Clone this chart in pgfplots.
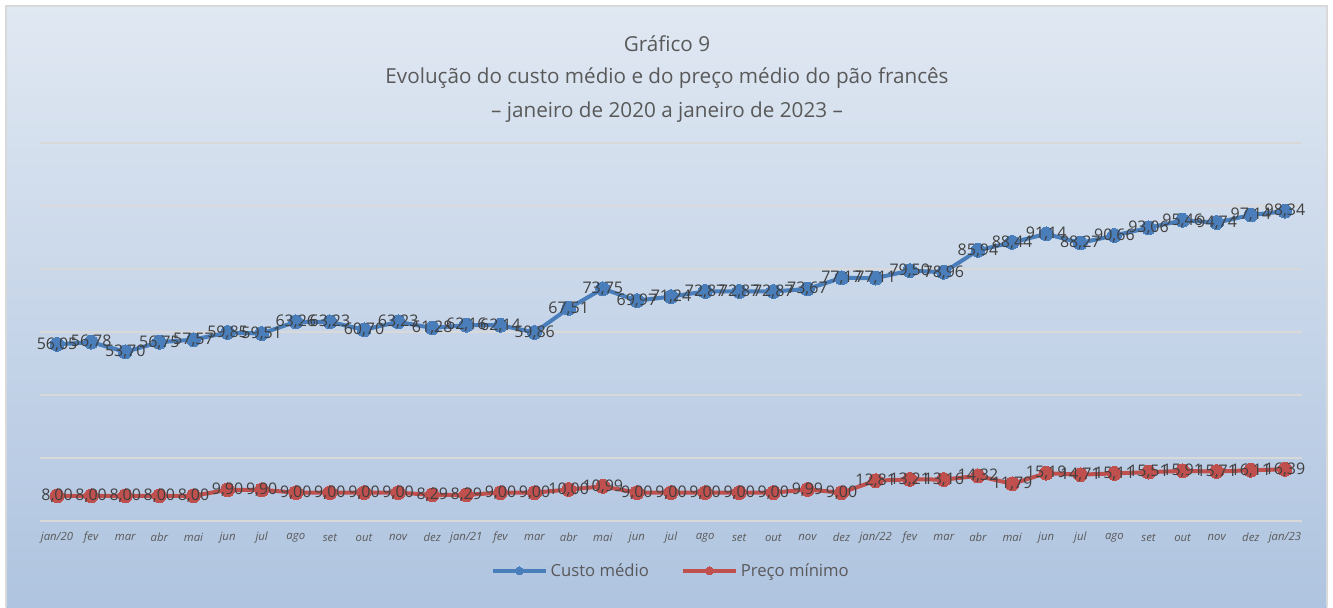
\documentclass[border=0pt]{standalone}
\usepackage{pgfplots}
\pgfplotsset{compat=1.18}
\usepackage{fontspec}
\setmainfont{Open Sans}
\definecolor{cblue}{HTML}{4A7EBB}
\definecolor{cred}{HTML}{C0504D}
\definecolor{ctext}{HTML}{404040}
\definecolor{ctitle}{HTML}{595959}
\definecolor{cgrid}{HTML}{D9D9D9}
\definecolor{bgtop}{HTML}{E0E8F2}
\definecolor{bgbot}{HTML}{AFC4E0}
\begin{document}
\begin{tikzpicture}
% background (1 px = 0.75pt; picture 1333 x 607 px)
\fill[white] (0,0) rectangle (999.75pt,455.25pt);
\shade[top color=bgtop, bottom color=bgbot] (4.5pt,0pt) rectangle (995.25pt,450.75pt);
\draw[cgrid, line width=1pt] (4.5pt,0pt) -- (4.5pt,450.75pt) -- (995.25pt,450.75pt) -- (995.25pt,0pt);
% title
\node[text=ctitle, font=\fontsize{15.5}{17}\selectfont] at (500.25pt,422.25pt) {Gráfico 9};
\node[text=ctitle, font=\fontsize{15.5}{17}\selectfont] at (500.25pt,396.75pt) {Evolução do custo médio e do preço médio do pão francês};
\node[text=ctitle, font=\fontsize{15.5}{17}\selectfont] at (500.25pt,371.25pt) {– janeiro de 2020 a janeiro de 2023 –};
\begin{axis}[
  at={(30pt,64.5pt)}, anchor=south west,
  scale only axis, width=946.5pt, height=283.5pt,
  xmin=-0.5, xmax=36.5, ymin=0, ymax=120,
  ytick={0,20,...,120}, yticklabels={},
  ymajorgrids, grid style={cgrid, line width=1.2pt},
  axis line style={draw=none}, major tick length=0pt,
  xtick={0,...,36},
  xticklabels={jan/20,fev,mar,abr,mai,jun,jul,ago,set,out,nov,dez,jan/21,fev,mar,abr,mai,jun,jul,ago,set,out,nov,dez,jan/22,fev,mar,abr,mai,jun,jul,ago,set,out,nov,dez,jan/23},
  xticklabel style={font=\fontsize{8.5}{9}\selectfont\itshape, text=ctitle, anchor=center, yshift=-12.5pt},
  nodes near coords,
  every node near coord/.append style={anchor=center, font=\fontsize{12}{13}\selectfont, text=ctext,
     /pgf/number format/.cd, fixed, fixed zerofill, precision=2, use comma, assume math mode=true},
  legend style={at={(axis description cs:0.5,-0.132)}, anchor=center, draw=none, fill=none,
     legend columns=2, font=\fontsize{12.5}{14}\selectfont, text=ctitle,
     /tikz/every even column/.append style={column sep=22pt}},
  legend image code/.code={\draw[mark repeat=2, mark phase=2, #1, mark size=3pt] plot coordinates {(0pt,0pt) (20pt,0pt) (40pt,0pt)};},
]
\addplot[cblue, line width=3pt, mark=*, mark size=5.2pt, mark options={solid, fill=cblue, draw=cblue, line width=0pt}] coordinates {
(0,56.05) (1,56.78) (2,53.70) (3,56.75) (4,57.57) (5,59.85) (6,59.51) (7,63.26) (8,63.23) (9,60.70)
(10,63.23) (11,61.28) (12,62.16) (13,62.14) (14,59.86) (15,67.51) (16,73.75) (17,69.97) (18,71.24) (19,72.87)
(20,72.87) (21,72.87) (22,73.67) (23,77.17) (24,77.11) (25,79.50) (26,78.96) (27,85.94) (28,88.44) (29,91.14)
(30,88.27) (31,90.66) (32,93.06) (33,95.46) (34,94.74) (35,97.14) (36,98.34)};
\addlegendentry{Custo médio}
\addplot[cred, line width=3pt, mark=*, mark size=5.2pt, mark options={solid, fill=cred, draw=cred, line width=0pt}] coordinates {
(0,8.00) (1,8.00) (2,8.00) (3,8.00) (4,8.00) (5,9.90) (6,9.90) (7,9.00) (8,9.00) (9,9.00)
(10,9.00) (11,8.29) (12,8.29) (13,9.00) (14,9.00) (15,10.00) (16,10.99) (17,9.00) (18,9.00) (19,9.00)
(20,9.00) (21,9.00) (22,9.99) (23,9.00) (24,12.81) (25,13.21) (26,13.16) (27,14.32) (28,11.79) (29,15.19)
(30,14.71) (31,15.11) (32,15.51) (33,15.91) (34,15.71) (35,16.11) (36,16.39)};
\addlegendentry{Preço mínimo}
\end{axis}
\end{tikzpicture}
\end{document}
